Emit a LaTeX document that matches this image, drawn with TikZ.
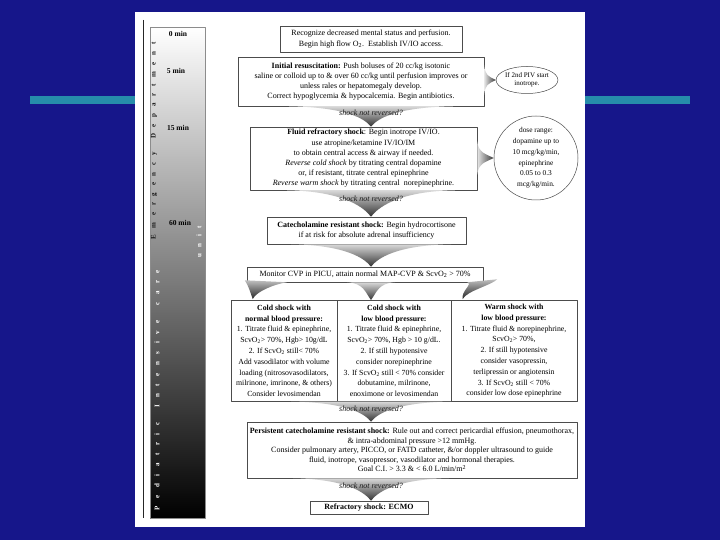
\documentclass[tikz,border=0pt]{standalone}
\usepackage{fontspec}
\setmainfont{Liberation Serif}
\usetikzlibrary{shapes.geometric,calc}

\definecolor{slideblue}{RGB}{22,22,138}
\definecolor{slidebar}{RGB}{38,140,170}

\tikzset{
  stepbox/.style={draw=black!70, line width=0.5pt, fill=white, align=center, inner sep=1pt},
  colbox/.style={stepbox, anchor=north, minimum height=101pt, font=\fontsize{7.8}{10.8}\selectfont},
  minlabel/.style={font=\fontsize{7.5}{8}\selectfont\bfseries},
  asklabel/.style={font=\fontsize{8}{9}\selectfont\itshape, text=black!90},
  unitlabel/.style={rotate=90, inner sep=0pt, font=\fontsize{7}{7}\selectfont\bfseries},
}

% shaded arrow pointing down: top centre, tip, half width
\newcommand{\flowdown}[3]{%
  \shade[top color=black!15, bottom color=black!80]
    ($(#1)+(-#3,0)$) .. controls ($(#1)+(-#3*0.3,1)$) and ($(#2)+(-6,-8)$) .. (#2)
    .. controls ($(#2)+(6,-8)$) and ($(#1)+(#3*0.3,1)$) .. ($(#1)+(#3,0)$) -- cycle;}
% shaded arrow pointing right: base centre, tip, half height
\newcommand{\flowright}[3]{%
  \shade[left color=black!10, right color=black!78]
    ($(#1)+(0,-#3)$) .. controls ($(#1)+(1,-#3*0.3)$) and ($(#2)+(-8,-4)$) .. (#2)
    .. controls ($(#2)+(-8,4)$) and ($(#1)+(1,#3*0.3)$) .. ($(#1)+(0,#3)$) -- cycle;}

\begin{document}
\begin{tikzpicture}[x=1pt, y=-1pt, line join=round,
    every node/.style={font=\fontsize{8}{10.2}\selectfont}]
  % Define main parameters
  \def\pw{720}   % slide width
  \def\ph{540}   % slide height
  \def\bl{150}   % time bar, left edge
  \def\br{205}   % time bar, right edge

  \useasboundingbox (0,0) rectangle (\pw,\ph);

  % Slide background and page
  \fill[slideblue] (0,0) rectangle (\pw,\ph);
  \fill[slidebar] (30,96) rectangle (690,104);
  \fill[white] (135,12) rectangle (585,527);
  \draw[black!85, line width=0.7pt] (143,20) -- (143,518);

  % Time bar
  \shade[top color=white, bottom color=black, draw=black!45] (\bl,27) rectangle (\br,518);
  \node[minlabel] (m0) at (178,34) {0 min};
  \node[minlabel] (m5) at (176,71) {5 min};
  \node[minlabel] (m15) at (178,128) {15 min};
  \node[minlabel] (m60) at (180,223) {60 min};

  \node[unitlabel, text=black!90] (ed) at (154,141)
    {\makebox[197pt][s]{E m e r g e n c y\ \ D e p a r t m e n t}};
  \node[unitlabel, text=white] (picu) at (157,390)
    {\makebox[240pt][s]{P e d i a t r i c\ \ I n t e n s i v e\ \ c a r e}};
  \node[unitlabel, text=white] (unit) at (199,242) {\makebox[32pt][s]{u n i t}};

  % Flow boxes
  \node[stepbox, minimum width=182pt, minimum height=26pt] (recog) at (371,39)
    {Recognize decreased mental status and perfusion.\\
     Begin high flow O\textsubscript{2}.\ \ Establish IV/IO access.};
  \node[stepbox, minimum width=246pt, minimum height=49pt] (init) at (361,81.5)
    {\textbf{Initial resuscitation:} Push boluses of 20 cc/kg isotonic\\
     saline or colloid up to \& over 60 cc/kg until perfusion improves or\\
     unless rales or hepatomegaly develop.\\
     Correct hypoglycemia \& hypocalcemia. Begin antibiotics.};
  \node[stepbox, ellipse, inner sep=0pt, minimum width=58pt, minimum height=27pt,
        font=\fontsize{7}{8.5}\selectfont] (piv) at (527,80)
    {If 2nd PIV start\\ inotrope.};
  \node[stepbox, minimum width=227pt, minimum height=63pt] (fluid) at (363.5,158.5)
    {\textbf{Fluid refractory shock}: Begin inotrope IV/IO.\\
     use atropine/ketamine IV/IO/IM\\
     to obtain central access \& airway if needed.\\
     \textit{Reverse cold shock} by titrating central dopamine\\
     or, if resistant, titrate central epinephrine\\
     \textit{Reverse warm shock} by titrating central\ \ norepinephrine.};
  \node[stepbox, circle, minimum size=84pt, inner sep=0pt, font=\fontsize{7.4}{10.8}\selectfont] (dose) at (536,158)
    {dose range:\\ dopamine up to\\ 10 mcg/kg/min,\\ epinephrine\\ 0.05 to 0.3\\ mcg/kg/min.};
  \node[stepbox, minimum width=199pt, minimum height=27pt] (catech) at (366.5,230.5)
    {\textbf{Catecholamine resistant shock:} Begin hydrocortisone\\
     if at risk for absolute adrenal insufficiency};
  \node[stepbox, minimum width=236pt, minimum height=15pt] (monitor) at (365,274.5)
    {Monitor CVP in PICU, attain normal MAP-CVP \& ScvO\textsubscript{2} > 70\%};

  \node[colbox, minimum width=106pt] (coldnorm) at (284,300)
    {\textbf{Cold shock with}\\ \textbf{normal blood pressure:}\\
     1. Titrate fluid \& epinephrine,\\ ScvO\textsubscript{2}> 70\%, Hgb> 10g/dL\\
     2. If ScvO\textsubscript{2} still< 70\%\\ Add vasodilator with volume\\
     loading (nitrosovasodilators,\\ milrinone, imrinone, \& others)\\
     Consider levosimendan};
  \node[colbox, minimum width=114pt] (coldlow) at (394,300)
    {\textbf{Cold shock with}\\ \textbf{low blood pressure:}\\
     1. Titrate fluid \& epinephrine,\\ ScvO\textsubscript{2}> 70\%, Hgb > 10 g/dL.\\
     2. If still hypotensive\\ consider norepinephrine\\
     3. If ScvO\textsubscript{2} still < 70\% consider\\ dobutamine, milrinone,\\
     enoximone or levosimendan};
  \node[colbox, minimum width=126pt] (warmlow) at (514,300)
    {\textbf{Warm shock with}\\ \textbf{low blood pressure:}\\
     1. Titrate fluid \& norepinephrine,\\ ScvO\textsubscript{2}> 70\%,\\
     2. If still hypotensive\\ consider vasopressin,\\
     terlipressin or angiotensin\\ 3. If ScvO\textsubscript{2} still < 70\%\\
     consider low dose epinephrine};

  \node[stepbox, minimum width=330pt, minimum height=56pt, font=\fontsize{8}{9.6}\selectfont] (persist) at (412,450)
    {\textbf{Persistent catecholamine resistant shock:} Rule out and correct pericardial effusion, pneumothorax,\\
     \& intra-abdominal pressure >12 mmHg.\\
     Consider pulmonary artery, PICCO, or FATD catheter, \&/or doppler ultrasound to guide\\
     fluid, inotrope, vasopressor, vasodilator and hormonal therapies.\\
     Goal C.I. > 3.3 \& < 6.0 L/min/m\textsuperscript{2}};
  \node[stepbox, minimum width=118pt, minimum height=13pt, font=\fontsize{8}{9}\selectfont\bfseries] (ecmo) at (369,507.5)
    {Refractory shock: ECMO};

  % Shaded arrows between boxes
  \coordinate (a1) at (init.south -| recog.north);
  \coordinate (b1) at (fluid.north -| recog.north);
  \flowdown{a1}{b1}{82}
  \node[asklabel] (q1) at ($(a1)+(0,7)$) {shock not reversed?};

  \coordinate (a2) at (fluid.south -| recog.north);
  \coordinate (b2) at (catech.north -| recog.north);
  \flowdown{a2}{b2}{84}
  \node[asklabel] (q2) at ($(a2)+(0,9)$) {shock not reversed?};

  \coordinate (a3) at (catech.south -| recog.north);
  \coordinate (b3) at (monitor.north -| recog.north);
  \flowdown{a3}{b3}{80}

  \coordinate (a4) at (monitor.south -| recog.north);
  \coordinate (b4) at (coldlow.north -| recog.north);
  \flowdown{a4}{b4}{24}

  % side sweeps to the outer columns
  \coordinate (sl1) at ($(monitor.south west)+(-2,-2)$);
  \coordinate (sl2) at ($(monitor.south west)+(40,0)$);
  \coordinate (sl3) at ($(coldnorm.north west)+(22,-1)$);
  \shade[top color=black!25, bottom color=black!85]
    (sl1) .. controls +(4,6) and +(-3,-8) .. (sl3) .. controls +(4,-8) and +(-12,2) .. (sl2) -- cycle;
  \coordinate (sr1) at ($(monitor.south east)+(14,-3)$);
  \coordinate (sr2) at ($(monitor.south east)+(-16,0)$);
  \coordinate (sr3) at ($(warmlow.north west)+(12,-1)$);
  \shade[top color=black!25, bottom color=black!85]
    (sr1) .. controls +(-6,6) and +(4,-8) .. (sr3) .. controls +(-2,-8) and +(6,2) .. (sr2) -- cycle;

  \coordinate (a5) at (coldlow.south -| recog.north);
  \coordinate (b5) at (persist.north -| recog.north);
  \flowdown{a5}{b5}{80}
  \node[asklabel] (q3) at ($(a5)+(0,7)$) {shock not reversed?};

  \coordinate (a6) at (persist.south -| recog.north);
  \coordinate (b6) at (ecmo.north -| recog.north);
  \flowdown{a6}{b6}{78}
  \node[asklabel] (q4) at ($(a6)+(0,8)$) {shock not reversed?};

  \coordinate (r1) at (init.east |- piv.west);
  \flowright{r1}{piv.west}{15}
  \coordinate (r2) at (fluid.east |- dose.west);
  \flowright{r2}{dose.west}{17}
\end{tikzpicture}
\end{document}
